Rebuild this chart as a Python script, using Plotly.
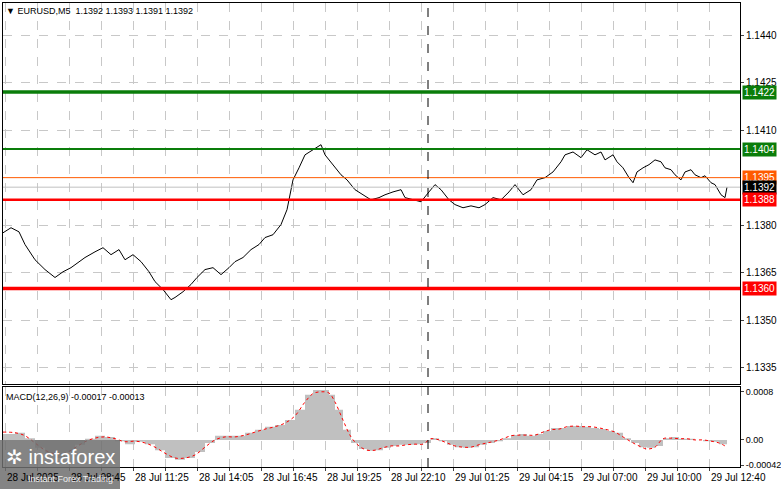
import plotly.graph_objects as go

# EURUSD M5 closes (bar number, price)
bar_no = [0, 4, 8, 11, 16, 21, 26, 30, 34, 38, 41, 46, 50, 54, 58, 61, 65, 69, 73, 76,
          80, 84, 86, 90, 94, 97, 101, 105, 109, 113, 116, 120, 124, 128, 131, 135, 139, 142, 145, 148,
          151, 155, 159, 161, 165, 169, 172, 176, 180, 184, 188, 191, 195, 199, 201, 205, 209, 213, 216, 219,
          223, 226, 230, 234, 238, 241, 245, 249, 253, 256, 260, 264, 267, 271, 275, 279, 281, 285, 289, 292,
          296, 299, 301, 305, 307, 310, 313, 315, 317, 320, 323, 326, 329, 331, 334, 336, 339, 341, 344, 346,
          349, 351, 354, 356, 359, 361, 362]
close = [1.13776, 1.13792, 1.13779, 1.13739, 1.13691, 1.13660, 1.13635, 1.13653, 1.13666, 1.13685,
         1.13698, 1.13716, 1.13729, 1.13707, 1.13723, 1.13691, 1.13707, 1.13685, 1.13653, 1.13622,
         1.13597, 1.13565, 1.13572, 1.13590, 1.13613, 1.13635, 1.13660, 1.13666, 1.13644, 1.13666,
         1.13685, 1.13698, 1.13723, 1.13739, 1.13761, 1.13770, 1.13802, 1.13849, 1.13943, 1.13981,
         1.14022, 1.14038, 1.14054, 1.14022, 1.13991, 1.13959, 1.13943, 1.13912, 1.13896, 1.13880,
         1.13887, 1.13896, 1.13905, 1.13912, 1.13887, 1.13880, 1.13874, 1.13905, 1.13928, 1.13912,
         1.13880, 1.13865, 1.13855, 1.13861, 1.13855, 1.13865, 1.13887, 1.13880, 1.13905, 1.13928,
         1.13896, 1.13912, 1.13943, 1.13950, 1.13968, 1.14000, 1.14022, 1.14031, 1.14013, 1.14038,
         1.14022, 1.14031, 1.14006, 1.14022, 1.14000, 1.13981, 1.13950, 1.13934, 1.13968, 1.13981,
         1.13991, 1.14006, 1.14000, 1.13981, 1.13975, 1.13959, 1.13943, 1.13968, 1.13975, 1.13959,
         1.13950, 1.13956, 1.13934, 1.13928, 1.13896, 1.13887, 1.13920]

# MACD histogram / signal, units of 0.00001
macd_bar = [0, 6, 11, 16, 21, 26, 31, 36, 41, 46, 51, 56, 61, 66, 71, 76, 81, 86, 91, 96,
            101, 106, 111, 116, 121, 126, 131, 136, 141, 146, 151, 155, 159, 163, 166, 170, 174,
            178, 182, 186, 190, 194, 198, 202, 206, 210, 214, 218, 222, 226, 230, 234, 238, 242, 246,
            250, 254, 258, 262, 266, 270, 274, 278, 282, 286, 290, 294, 298, 302, 306, 310, 314, 318,
            322, 326, 330, 334, 338, 342, 346, 350, 354, 358, 362]
macd_hist = [10, 12, 3, -13, -23, -30, -20, -8, 2, 7, 5, -2, -7, -3, -7, -17, -30, -33, -30, -20,
             -5, 7, 7, 7, 12, 17, 22, 25, 33, 50, 75, 83, 83, 75, 50, 17, -5,
             -15, -18, -17, -13, -10, -8, -8, -7, -5, 3, -2, -8, -12, -13, -12, -8, -5, -2, 3,
             8, 10, 7, 10, 15, 20, 20, 23, 23, 22, 20, 18, 15, 12, 3, -5, -12, -13, -10, 3,
             5, 2, 2, 0, -2, -3, -7, -17]
macd_signal = [13, 12, 7, -5, -17, -23, -22, -13, -3, 3, 5, 2, -3, -2, -5, -12, -22, -30, -30, -25,
               -12, 0, 5, 5, 8, 13, 18, 22, 28, 40, 63, 77, 80, 78, 63, 33, 5,
               -10, -17, -17, -13, -10, -10, -8, -7, -7, 2, 0, -5, -10, -12, -12, -8, -5, -2, 2,
               7, 8, 8, 8, 13, 17, 18, 22, 23, 22, 22, 20, 17, 13, 5, -3, -10, -15, -12, 2,
               3, 2, 2, 0, 0, -2, -5, -12]

# levels: price, line colour, width
levels = [1.1422, 1.1404, 1.1395, 1.1392, 1.1388, 1.1360]
level_colors = ["#0a7d0a", "#0a7d0a", "#ff5a00", "#c0c0c0", "#ff0000", "#ff0000"]
level_widths = [3.5, 2, 1, 1, 2.5, 3.5]
label_bg = ["#0a7d0a", "#0a7d0a", "#ff5a00", "#000000", "#ff0000", "#ff0000"]

price_ticks = [1.1440, 1.1425, 1.1410, 1.1380, 1.1365, 1.1350, 1.1335]
grid_bars = list(range(1, 369, 16))
time_bars = [1, 33, 65, 97, 129, 161, 193, 225, 257, 289, 321, 353]
time_labels = ["28 Jul 2025", "28 Jul 08:45", "28 Jul 11:25", "28 Jul 14:05", "28 Jul 16:45",
               "28 Jul 19:25", "28 Jul 22:10", "29 Jul 01:25", "29 Jul 04:15", "29 Jul 07:00",
               "29 Jul 10:00", "29 Jul 12:40"]
cursor_bar = 212.5

W, H = 781, 489
FONT = "Liberation Sans"

fig = go.Figure()
fig.add_trace(go.Scatter(x=bar_no, y=close, mode="lines", line=dict(color="black", width=1),
                         xaxis="x", yaxis="y", showlegend=False))
fig.add_trace(go.Scatter(x=macd_bar, y=[v * 1e-5 for v in macd_hist], mode="lines",
                         line=dict(color="#c0c0c0", width=0, shape="hv"), fill="tozeroy",
                         fillcolor="#c0c0c0", xaxis="x2", yaxis="y2", showlegend=False))
fig.add_trace(go.Scatter(x=macd_bar, y=[v * 1e-5 for v in macd_signal], mode="lines",
                         line=dict(color="red", width=1, dash="dot", shape="spline"),
                         xaxis="x2", yaxis="y2", showlegend=False))

for p, c, w in zip(levels, level_colors, level_widths):
    fig.add_shape(type="line", xref="x domain", yref="y", x0=0, x1=1, y0=p, y1=p,
                  line=dict(color=c, width=w))
for p, c in zip(levels, label_bg):
    fig.add_annotation(xref="paper", yref="y", x=742 / W, y=p, xanchor="left", text=f"{p:.4f}",
                       showarrow=False, bgcolor=c, font=dict(color="white", size=10, family=FONT),
                       borderpad=1)

# time labels start at their grid line, MT4 style
for b, t in zip(time_bars, time_labels):
    fig.add_annotation(xref="x2", yref="paper", x=b, y=(H - 470) / H, xanchor="left", yanchor="top",
                       text=t, showarrow=False, font=dict(size=10, family=FONT, color="black"))

# vertical cursor line through both panels
fig.add_shape(type="line", xref="x", yref="paper", x0=cursor_bar, x1=cursor_bar,
              y0=(H - 467) / H, y1=1, line=dict(color="black", width=1, dash="dash"))

fig.add_annotation(xref="paper", yref="paper", x=4 / W, y=1 - 4 / H, xanchor="left", yanchor="top",
                   text="▼ EURUSD,M5  1.1392 1.1393 1.1391 1.1392", showarrow=False,
                   font=dict(size=9, family=FONT, color="black"))
fig.add_annotation(xref="paper", yref="paper", x=4 / W, y=1 - 390 / H, xanchor="left", yanchor="top",
                   text="MACD(12,26,9) -0.00017 -0.00013", showarrow=False,
                   font=dict(size=9, family=FONT, color="black"))

# watermark box
fig.add_shape(type="rect", xref="paper", yref="paper", x0=0, x1=120 / W, y0=0, y1=(H - 440) / H,
              fillcolor="rgba(110,110,110,0.85)", line_width=0, layer="above")
fig.add_annotation(xref="paper", yref="paper", x=4 / W, y=(H - 444) / H, xanchor="left", yanchor="top",
                   text="✲ instaforex", showarrow=False, font=dict(size=20, color="white", family=FONT))
fig.add_annotation(xref="paper", yref="paper", x=26 / W, y=(H - 472) / H, xanchor="left", yanchor="top",
                   text="Instant Forex Trading", showarrow=False, font=dict(size=9, color="#eeeeee", family=FONT))

grid = dict(showgrid=True, gridcolor="#c8c8c8", griddash="dash", gridwidth=1)
xdom = [3 / W, 740 / W]
xrng = [0, 368.5]
fig.update_layout(
    width=W, height=H, margin=dict(l=0, r=0, t=0, b=0),
    paper_bgcolor="white", plot_bgcolor="white",
    font=dict(family=FONT, size=10, color="black"),
    xaxis=dict(domain=xdom, range=xrng, tickvals=grid_bars, showticklabels=False, automargin=False,
               showline=True, mirror=True, linecolor="black", zeroline=False, **grid),
    yaxis=dict(domain=[(H - 384) / H, (H - 3) / H], range=[1.13299, 1.14501], side="right",
               tickvals=price_ticks, tickformat=".4f", ticks="outside", ticklen=3, automargin=False,
               showline=True, mirror=True, linecolor="black", zeroline=False, **grid),
    xaxis2=dict(domain=xdom, range=xrng, anchor="y2", tickvals=grid_bars, showticklabels=False,
                showline=True, mirror=True, linecolor="black", zeroline=False, ticks="outside",
                ticklen=3, automargin=False, **grid),
    yaxis2=dict(domain=[(H - 467) / H, (H - 387) / H], range=[-0.00045, 0.00088], side="right",
                anchor="x2", tickvals=[0.0008, 0.0, -0.00042], ticktext=["0.0008", "0.00", "-0.00042"],
                ticks="outside", ticklen=3, showline=True, mirror=True, linecolor="black",
                tickfont=dict(size=9), automargin=False, zeroline=False, showgrid=False),
)

fig.write_html("out.html", config={"displayModeBar": False},
               post_script="document.body.style.margin='0';")
